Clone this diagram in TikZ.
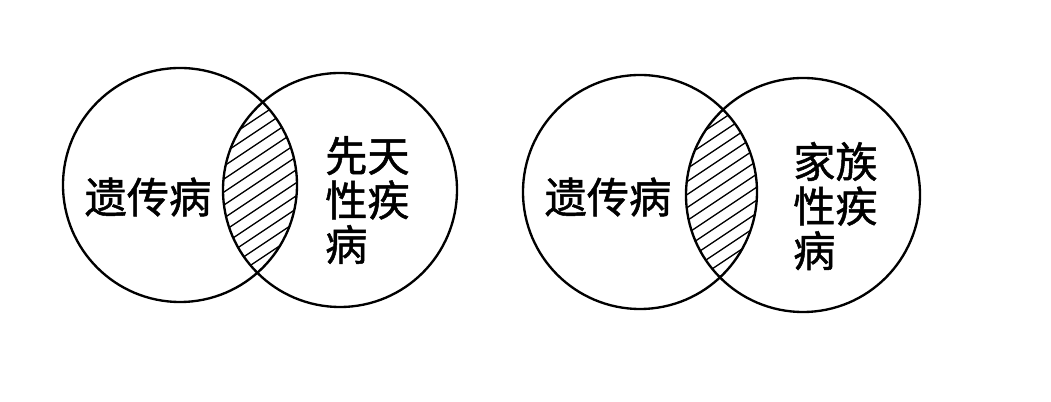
\documentclass[tikz,border=0pt]{standalone}
\usepackage{fontspec}
\newfontfamily\cjk[FakeBold=1.2]{Noto Sans CJK SC}
\usepackage{tikz}

\begin{document}
\begin{tikzpicture}[x=0.03cm,y=0.03cm,
  ring/.style={line width=2pt},
  hatch/.style={line width=1.1pt},
  word/.style={font=\cjk\fontsize{36pt}{38pt}\selectfont, align=left, inner sep=0pt}]
\useasboundingbox (0,0) rectangle (1051,402);
% left pair
\begin{scope}
\clip (180,217) circle (117);
\clip (340,212) circle (117);
\foreach \b in {-160,-147,...,170}
  \draw[hatch] (110,112+\b) -- ++(300,200);
\end{scope}
\draw[ring] (180,217) circle (117);
\draw[ring] (340,212) circle (117);
\node[word] (genA) at (148,205) {遗传病};
\node[word, anchor=west] (cong) at (325,202) {先天\\性疾\\病};
% right pair
\begin{scope}
\clip (640,210) circle (117);
\clip (803,207) circle (117);
\foreach \b in {-160,-147,...,170}
  \draw[hatch] (571,108+\b) -- ++(300,200);
\end{scope}
\draw[ring] (640,210) circle (117);
\draw[ring] (803,207) circle (117);
\node[word] (genB) at (608,205) {遗传病};
\node[word, anchor=west] (fam) at (793,196) {家族\\性疾\\病};
\end{tikzpicture}
\end{document}
